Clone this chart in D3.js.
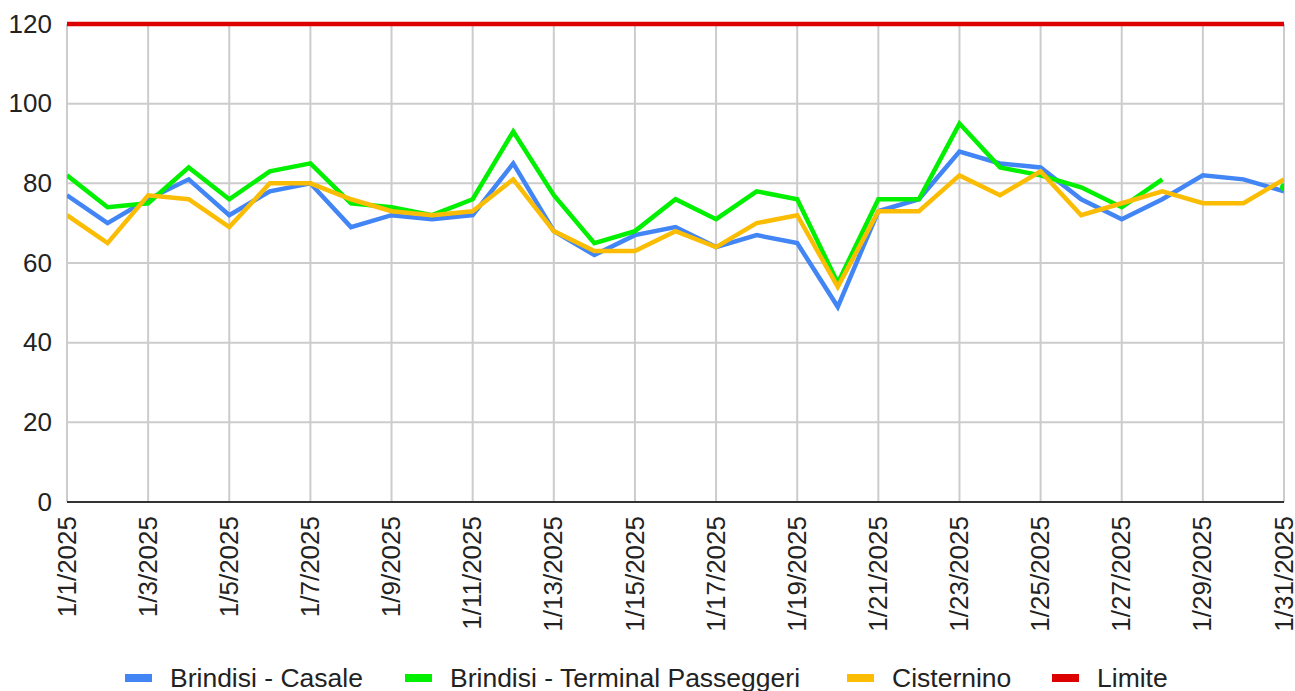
<!DOCTYPE html>
<html>
<head>
<meta charset="utf-8">
<script src="https://cdn.jsdelivr.net/npm/d3@7"></script>
<style>
  body { margin: 0; background: #fff; }
  text { font-family: Arial, "Liberation Sans", sans-serif; fill: #222; }
</style>
</head>
<body>
<div id="chart"></div>
<script>
/*
*    PM10 daily values, January 2025
*/

const days = d3.range(1, 32).map(d => `1/${d}/2025`);

const casale = [77, 70, 76, 81, 72, 78, 80, 69, 72, 71, 72, 85, 68, 62, 67, 69, 64, 67, 65, 49,
                73, 76, 88, 85, 84, 76, 71, 76, 82, 81, 78];
const terminal = [82, 74, 75, 84, 76, 83, 85, 75, 74, 72, 76, 93, 77, 65, 68, 76, 71, 78, 76, 55,
                  76, 76, 95, 84, 82, 79, 74, 81, null, null, 79];
const cisternino = [72, 65, 77, 76, 69, 80, 80, 76, 73, 72, 73, 81, 68, 63, 63, 68, 64, 70, 72, 54,
                    73, 73, 82, 77, 83, 72, 75, 78, 75, 75, 81];
const limite = days.map(() => 120);

const yTicks = [0, 20, 40, 60, 80, 100, 120];

const seriesNames = ["Brindisi - Casale", "Brindisi - Terminal Passeggeri", "Cisternino", "Limite"];
const seriesColors = ["#4285f4", "#00f000", "#fbbc04", "#dd0000"];

const width = 1295;
const height = 691;
const margin = { left: 67, right: 11, top: 24, bottom: 189 };
const innerWidth = width - margin.left - margin.right;
const innerHeight = height - margin.top - margin.bottom;

const svg = d3.select("#chart")
    .append("svg")
    .attr("width", width)
    .attr("height", height);

svg.append("defs").append("clipPath")
    .attr("id", "plot-clip")
    .append("rect")
    .attr("x", 0).attr("y", -4)
    .attr("width", innerWidth).attr("height", innerHeight + 8);

const g = svg.append("g")
    .attr("transform", `translate(${margin.left}, ${margin.top})`);

const x = d3.scalePoint()
    .domain(days)
    .range([0, innerWidth]);

const y = d3.scaleLinear()
    .domain([0, 120])
    .range([innerHeight, 0]);

// grid verticale (ogni due giorni)
const tickDays = days.filter((d, i) => i % 2 === 0);

g.append("g")
    .selectAll("line")
    .data(tickDays)
    .enter()
    .append("line")
    .attr("x1", d => x(d)).attr("x2", d => x(d))
    .attr("y1", 0).attr("y2", innerHeight)
    .attr("stroke", "#cccccc")
    .attr("stroke-width", 2);

// grid orizzontale
g.append("g")
    .selectAll("line")
    .data(yTicks.filter(t => t > 0))
    .enter()
    .append("line")
    .attr("x1", 0).attr("x2", innerWidth)
    .attr("y1", d => y(d)).attr("y2", d => y(d))
    .attr("stroke", "#cccccc")
    .attr("stroke-width", 2);

// asse Y
const yAxis = g.append("g")
    .call(d3.axisLeft(y).tickValues(yTicks).tickSize(0).tickPadding(15));
yAxis.select(".domain").remove();
yAxis.selectAll("text")
    .style("font-size", "26px")
    .attr("fill", "#222");

// asse X
const xAxis = g.append("g")
    .attr("transform", `translate(0, ${innerHeight})`)
    .call(d3.axisBottom(x).tickValues(tickDays).tickSize(0).tickPadding(0));
xAxis.select(".domain").remove();
xAxis.selectAll("text")
    .style("font-size", "26px")
    .attr("fill", "#222")
    .attr("text-anchor", "end")
    .attr("dy", "0.35em")
    .attr("transform", "translate(-1, 14) rotate(-90)");

g.append("line")
    .attr("x1", 0).attr("x2", innerWidth)
    .attr("y1", innerHeight).attr("y2", innerHeight)
    .attr("stroke", "#333")
    .attr("stroke-width", 2);

// linee
const allSeries = [casale, terminal, cisternino, limite];

const line = d3.line()
    .defined(d => d.v !== null)
    .x(d => x(d.day))
    .y(d => y(d.v));

const plot = g.append("g").attr("clip-path", "url(#plot-clip)");

allSeries.forEach((values, k) => {
    const pts = values.map((v, i) => ({ day: days[i], v: v }));

    plot.append("path")
        .datum(pts)
        .attr("fill", "none")
        .attr("stroke", seriesColors[k])
        .attr("stroke-width", 4.5)
        .attr("stroke-linejoin", "miter")
        .attr("d", line);

    // punti isolati
    const lonely = pts.filter((p, i) => p.v !== null &&
        (i === 0 || pts[i - 1].v === null) &&
        (i === pts.length - 1 || pts[i + 1].v === null));

    plot.selectAll(null)
        .data(lonely)
        .enter()
        .append("circle")
        .attr("cx", d => x(d.day))
        .attr("cy", d => y(d.v))
        .attr("r", 4)
        .attr("fill", seriesColors[k]);
});

// legenda
const legendX = [125, 405, 847, 1052];
const legend = svg.append("g")
    .attr("transform", "translate(0, 678)");

seriesNames.forEach((name, k) => {
    legend.append("rect")
        .attr("x", legendX[k])
        .attr("y", -4)
        .attr("width", 27)
        .attr("height", 8)
        .attr("fill", seriesColors[k]);

    legend.append("text")
        .attr("x", legendX[k] + 45)
        .attr("y", 0)
        .attr("dy", "0.35em")
        .style("font-size", "26.5px")
        .text(name);
});
</script>
</body>
</html>
